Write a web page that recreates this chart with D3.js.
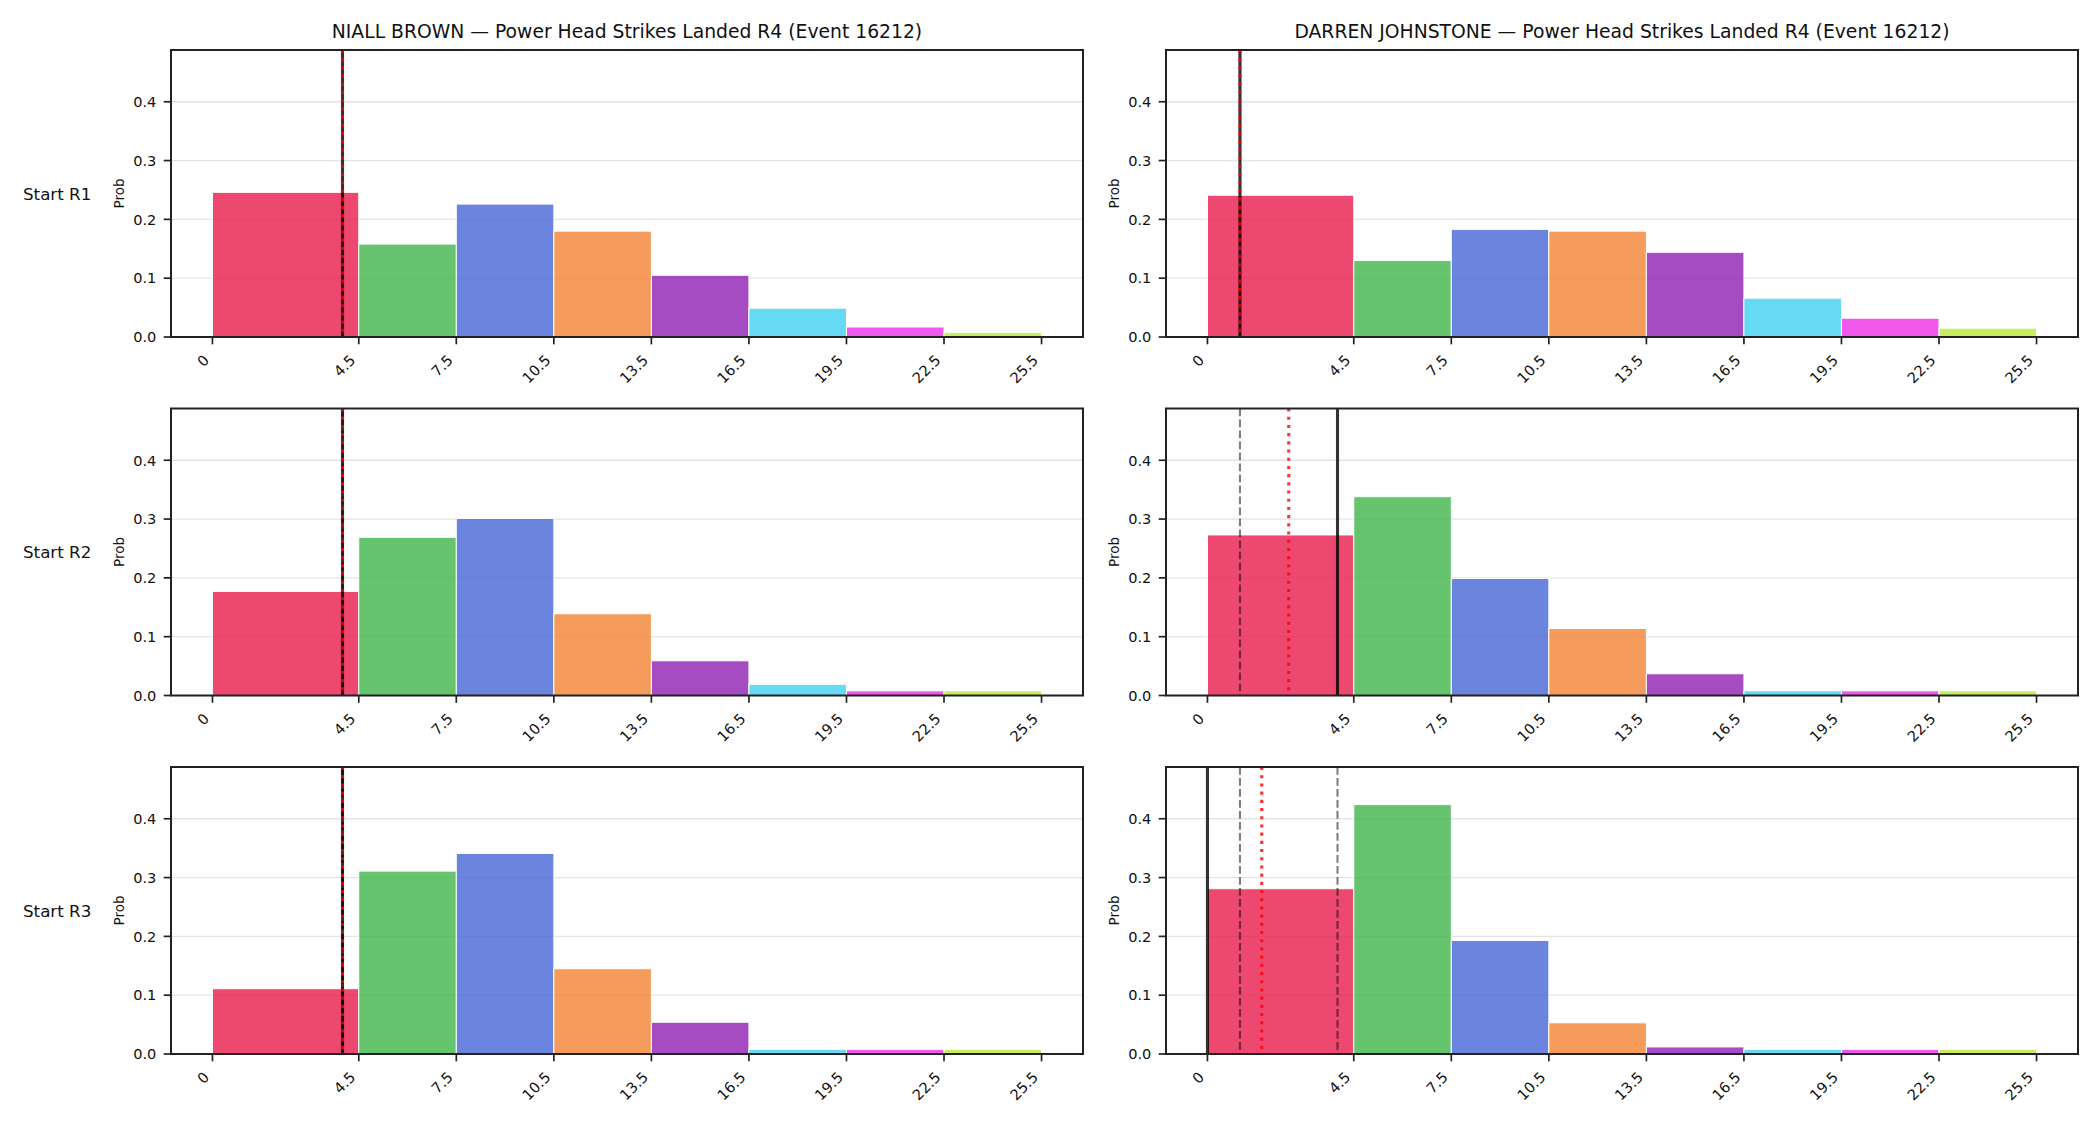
<!DOCTYPE html>
<html>
<head>
<meta charset="utf-8">
<script src="https://cdn.jsdelivr.net/npm/d3@7"></script>
<style>
  body { margin: 0; background: #fff; }
  text { font-family: "DejaVu Sans", sans-serif; fill: #111; }
</style>
</head>
<body>
<div id="chart"></div>
<script>
// data
const players = ["NIALL BROWN", "DARREN JOHNSTONE"]
const statName = "Power Head Strikes Landed R4 (Event 16212)"
const rounds = ["Start R1", "Start R2", "Start R3"]
const binEdges = [0, 4.5, 7.5, 10.5, 13.5, 16.5, 19.5, 22.5, 25.5]
const tickLabels = ["0", "4.5", "7.5", "10.5", "13.5", "16.5", "19.5", "22.5", "25.5"]
const binColors = ["#e71a4c", "#40b54b", "#4665d6", "#f38333", "#901fb3", "#40d1f3", "#ec2ee7", "#b8ea38"]
const yTicks = [0.0, 0.1, 0.2, 0.3, 0.4]

const brownProbs = [
    [0.246, 0.158, 0.226, 0.180, 0.105, 0.049, 0.017, 0.008],
    [0.177, 0.269, 0.301, 0.139, 0.059, 0.019, 0.008, 0.008],
    [0.111, 0.311, 0.341, 0.145, 0.054, 0.008, 0.008, 0.008],
]
const johnstoneProbs = [
    [0.241, 0.130, 0.183, 0.180, 0.144, 0.066, 0.032, 0.015],
    [0.273, 0.338, 0.199, 0.114, 0.037, 0.008, 0.008, 0.008],
    [0.281, 0.424, 0.193, 0.053, 0.012, 0.008, 0.008, 0.008],
]
// reference lines per round: solid, dashed, dotted mean
const brownSolid = [4, 4, 4]
const brownDashed = [[], [4], [4, 4]]
const brownMean = [4, 4, 4]
const johnstoneSolid = [1, 4, 0]
const johnstoneDashed = [[], [1], [1, 4]]
const johnstoneMean = [1, 2.5, 1.67]

const panels = [
    {probs: brownProbs, solid: brownSolid, dashed: brownDashed, mean: brownMean},
    {probs: johnstoneProbs, solid: johnstoneSolid, dashed: johnstoneDashed, mean: johnstoneMean},
]

//dimensions
let dimensions = {
    width: 2100,
    height: 1125,
    colLeft: [171, 1166],
    rowTop: [50, 408.5, 767],
    axWidth: 912,
    axHeight: 287,
}

//canvas
const svg = d3.select("#chart")
    .append("svg")
    .attr("width", dimensions.width)
    .attr("height", dimensions.height)

const xScale = d3.scaleLinear()
    .domain([-1.275, 26.775])
    .range([0, dimensions.axWidth])
const yScale = d3.scaleLinear()
    .domain([0, 0.488])
    .range([dimensions.axHeight, 0])

panels.forEach((panel, col) => {
    rounds.forEach((round, row) => {
        const g = svg.append("g")
            .attr("transform", "translate(" + dimensions.colLeft[col] + "," + dimensions.rowTop[row] + ")")

        // grid
        g.selectAll(".grid")
            .data(yTicks)
            .join("line")
            .attr("x1", 0)
            .attr("x2", dimensions.axWidth)
            .attr("y1", d => yScale(d))
            .attr("y2", d => yScale(d))
            .attr("stroke", "#e4e4e4")
            .attr("stroke-width", 1.3)

        // bars
        const bins = panel.probs[row].map((p, i) => ({x0: binEdges[i], x1: binEdges[i + 1], p: p, c: binColors[i]}))
        g.selectAll(".bar")
            .data(bins)
            .join("rect")
            .attr("x", d => xScale(d.x0))
            .attr("width", d => xScale(d.x1) - xScale(d.x0))
            .attr("y", d => yScale(d.p))
            .attr("height", d => yScale(0) - yScale(d.p))
            .attr("fill", d => d.c)
            .attr("fill-opacity", 0.8)
            .attr("stroke", "#fff")
            .attr("stroke-width", 1)

        // vertical lines
        g.append("line")
            .attr("x1", xScale(panel.solid[row]))
            .attr("x2", xScale(panel.solid[row]))
            .attr("y1", 0)
            .attr("y2", dimensions.axHeight)
            .attr("stroke", "#000")
            .attr("stroke-opacity", 0.8)
            .attr("stroke-width", 3.1)
        g.selectAll(".dashed")
            .data(panel.dashed[row])
            .join("line")
            .attr("x1", d => xScale(d))
            .attr("x2", d => xScale(d))
            .attr("y1", 0)
            .attr("y2", dimensions.axHeight)
            .attr("stroke", "#000")
            .attr("stroke-opacity", 0.5)
            .attr("stroke-width", 2.1)
            .attr("stroke-dasharray", "7.7,3.3")
        g.append("line")
            .attr("x1", xScale(panel.mean[row]))
            .attr("x2", xScale(panel.mean[row]))
            .attr("y1", 0)
            .attr("y2", dimensions.axHeight)
            .attr("stroke", "#ff0000")
            .attr("stroke-opacity", 0.8)
            .attr("stroke-width", 3.1)
            .attr("stroke-dasharray", "3.1,5.1")

        // frame
        g.append("rect")
            .attr("width", dimensions.axWidth)
            .attr("height", dimensions.axHeight)
            .attr("fill", "none")
            .attr("stroke", "#222")
            .attr("stroke-width", 2)

        // y axis
        g.selectAll(".ytick")
            .data(yTicks)
            .join("line")
            .attr("x1", -7.3)
            .attr("x2", 0)
            .attr("y1", d => yScale(d))
            .attr("y2", d => yScale(d))
            .attr("stroke", "#222")
            .attr("stroke-width", 1.7)
        g.selectAll(".ylab")
            .data(yTicks)
            .join("text")
            .attr("x", -14.6)
            .attr("y", d => yScale(d))
            .attr("dy", "0.36em")
            .attr("text-anchor", "end")
            .style("font-size", "14.6px")
            .text(d => d.toFixed(1))

        // x axis
        g.selectAll(".xtick")
            .data(binEdges)
            .join("line")
            .attr("x1", d => xScale(d))
            .attr("x2", d => xScale(d))
            .attr("y1", dimensions.axHeight)
            .attr("y2", dimensions.axHeight + 7.3)
            .attr("stroke", "#222")
            .attr("stroke-width", 1.7)
        g.selectAll(".xlab")
            .data(binEdges)
            .join("text")
            .attr("transform", (d, i) => "translate(" + (xScale(d) - 2.4) + "," + (dimensions.axHeight + 24.2) + ") rotate(-45)")
            .attr("text-anchor", "end")
            .style("font-size", "14.6px")
            .text((d, i) => tickLabels[i])

        // y label
        g.append("text")
            .attr("transform", "translate(-47.5," + (dimensions.axHeight / 2) + ") rotate(-90)")
            .attr("text-anchor", "middle")
            .style("font-size", "13.5px")
            .text("Prob")

        if (col === 0) {
            g.append("text")
                .attr("x", 23 - dimensions.colLeft[0])
                .attr("y", dimensions.axHeight / 2)
                .attr("dy", "0.36em")
                .style("font-size", "16.7px")
                .text(round)
        }
        if (row === 0) {
            g.append("text")
                .attr("x", dimensions.axWidth / 2)
                .attr("y", -12.5)
                .attr("text-anchor", "middle")
                .style("font-size", "18.75px")
                .text(players[col] + " \u2014 " + statName)
        }
    })
})
</script>
</body>
</html>
